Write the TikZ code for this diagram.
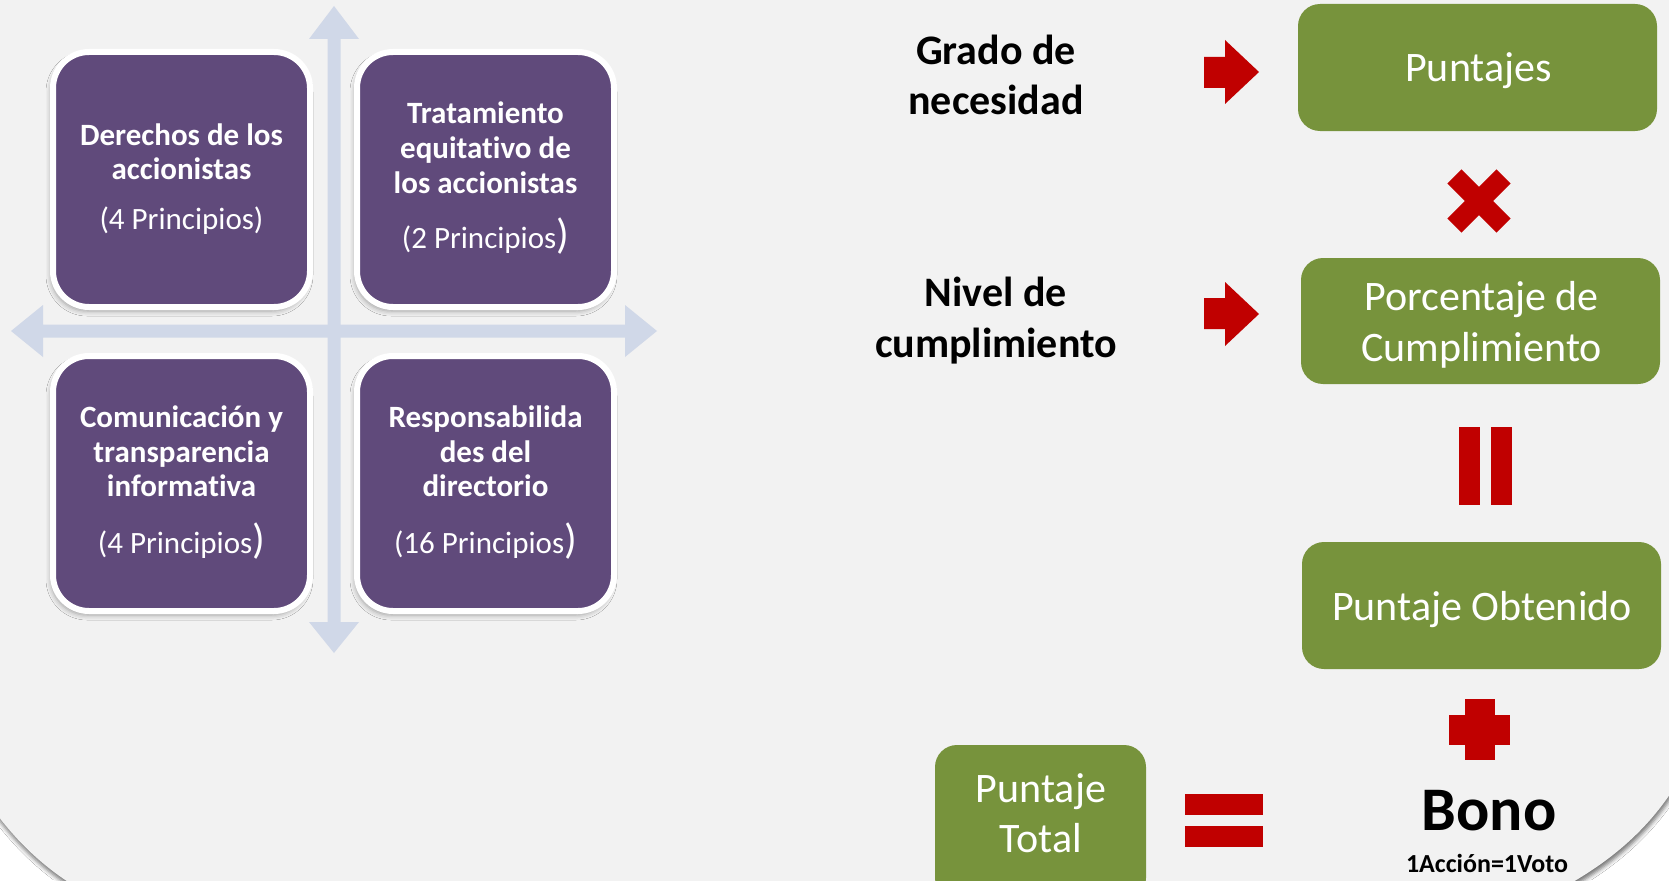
\documentclass[tikz,border=0pt]{standalone}
\usepackage{fontspec}
\setmainfont{Carlito}[RawFeature={-liga;-clig;-calt;-dlig}]
\usetikzlibrary{shadows,shadows.blur}
\definecolor{bggray}{HTML}{F2F2F2}
\definecolor{purplebox}{HTML}{604A7B}
\definecolor{greenbox}{HTML}{77933C}
\definecolor{redmark}{HTML}{C00000}
\definecolor{crossblue}{HTML}{D0D8E8}
\newcommand{\bigparen}{{\fontsize{42}{42}\selectfont)}}
\begin{document}
\begin{tikzpicture}[x=1pt,y=-1pt,
  pbox/.style={draw=white, line width=6pt, fill=purplebox, rounded corners=36pt,
    minimum width=257pt, minimum height=255pt, inner sep=0pt, outer sep=0pt,
    blur shadow={shadow xshift=-2pt, shadow yshift=-4pt, shadow blur radius=5pt, shadow opacity=35}},
  gbox/.style={fill=greenbox, rounded corners=22pt, inner sep=0pt, outer sep=0pt},
  ptitle/.style={text=white, font=\fontsize{31}{35}\selectfont\bfseries, anchor=base, inner sep=0pt},
  pnote/.style={text=white, font=\fontsize{31}{35}\selectfont, anchor=base, inner sep=0pt},
  lbl/.style={text=black, font=\fontsize{42}{50}\selectfont\bfseries, anchor=base, inner sep=0pt},
  gtxt/.style={text=white, font=\fontsize{42}{50}\selectfont, anchor=base, inner sep=0pt},
  redshape/.style={fill=redmark},
  crossarrow/.style={fill=crossblue}
]
\useasboundingbox (0,0) rectangle (1669,880);
\fill[white] (0,0) rectangle (1669,880);
\begin{scope}
\clip (0,0) rectangle (1669,880);
% background slide shape
\fill[bggray, blur shadow={shadow xshift=1pt, shadow yshift=-4pt, shadow blur radius=4pt, shadow opacity=55}]
  (-20,-20) -- (1690,-20) -- (1690,760)
  .. controls (1650,840) and (1590,875) .. (1530,905)
  -- (100,900) .. controls (55,878) and (15,845) .. (-20,790) -- cycle;

% cross arrows
\fill[crossarrow] (334,6) -- (359,39) -- (340.5,39) -- (340.5,622) -- (359,622) -- (334,653)
  -- (309,622) -- (327.5,622) -- (327.5,39) -- (309,39) -- cycle;
\fill[crossarrow] (11,331) -- (43,305) -- (43,324.5) -- (625,324.5) -- (625,305) -- (657,331)
  -- (625,357) -- (625,337.5) -- (43,337.5) -- (43,357) -- cycle;

% purple boxes
\node[pbox] (b1) at (181.5,179.5) {};
\node[pbox] (b2) at (485.5,179.5) {};
\node[pbox] (b3) at (181.5,483.5) {};
\node[pbox] (b4) at (485.5,483.5) {};

\node[ptitle] (b1a) at (181.5,145) {Derechos de los};
\node[ptitle] (b1b) at (181.5,179) {accionistas};
\node[pnote]  (b1c) at (181.5,229) {(4 Principios)};

\node[ptitle] (b2a) at (485.5,123.5) {Tratamiento};
\node[ptitle] (b2b) at (485.5,158) {equitativo de};
\node[ptitle] (b2c) at (485.5,193) {los accionistas};
\node[pnote]  (b2d) at (485.5,248) {(2 Principios\bigparen};

\node[ptitle] (b3a) at (181.5,427) {Comunicación y};
\node[ptitle] (b3b) at (181.5,462) {transparencia};
\node[ptitle] (b3c) at (181.5,496.5) {informativa};
\node[pnote]  (b3d) at (181.5,553) {(4 Principios\bigparen};

\node[ptitle] (b4a) at (485.5,427) {Responsabilida};
\node[ptitle] (b4b) at (485.5,462) {des del};
\node[ptitle] (b4c) at (485.5,496.5) {directorio};
\node[pnote]  (b4d) at (485.5,553) {(16 Principios\bigparen};

% right side labels
\node[lbl] (g1) at (996,65) {Grado de};
\node[lbl] (g2) at (996,115) {necesidad};
\node[lbl] (n1) at (996,306.7) {Nivel de};
\node[lbl] (n2) at (996,357) {cumplimiento};

% red block arrows
\fill[redshape] (1204,57) -- (1225,57) -- (1225,40) -- (1259,72) -- (1225,104) -- (1225,88) -- (1204,88) -- cycle;
\fill[redshape] (1204,298) -- (1225,298) -- (1225,282) -- (1259,314) -- (1225,346) -- (1225,329) -- (1204,329) -- cycle;

% green boxes
\node[gbox, minimum width=359pt, minimum height=127pt] (p1) at (1477.5,67.5) {};
\node[gtxt] (p1t) at (1478.5,81.7) {Puntajes};

\node[gbox, minimum width=359pt, minimum height=126pt] (p2) at (1480.5,321) {};
\node[gtxt] (p2a) at (1481.5,310.7) {Porcentaje de};
\node[gtxt] (p2b) at (1481.5,361.7) {Cumplimiento};

\node[gbox, minimum width=359pt, minimum height=127pt] (p3) at (1481.5,605.5) {};
\node[gtxt] (p3t) at (1482,620.7) {Puntaje Obtenido};

\node[gbox, minimum width=211pt, minimum height=155pt] (p4) at (1040.5,822.5) {};
\node[gtxt] (p4a) at (1041,802) {Puntaje};
\node[gtxt] (p4b) at (1041,852) {Total};

% operators
\draw[redmark, line width=20pt] (1479,201) +(-24.6,-24.6) -- +(24.6,24.6);
\draw[redmark, line width=20pt] (1479,201) +(-24.6,24.6) -- +(24.6,-24.6);
\fill[redshape] (1459,427) rectangle (1480,505);
\fill[redshape] (1491,427) rectangle (1512,505);
\fill[redshape] (1465,699) rectangle (1495,760);
\fill[redshape] (1449,715) rectangle (1510,745);
\fill[redshape] (1185,794) rectangle (1263,815);
\fill[redshape] (1185,826) rectangle (1263,847);

% bono
\node[text=black, font=\fontsize{62}{70}\selectfont\bfseries, anchor=base, inner sep=0pt] (bono) at (1489,830) {Bono};
\node[text=black, font=\fontsize{26}{30}\selectfont\bfseries, anchor=base, inner sep=0pt] (voto) at (1487,872) {1Acción=1Voto};
\end{scope}
\end{tikzpicture}
\end{document}
